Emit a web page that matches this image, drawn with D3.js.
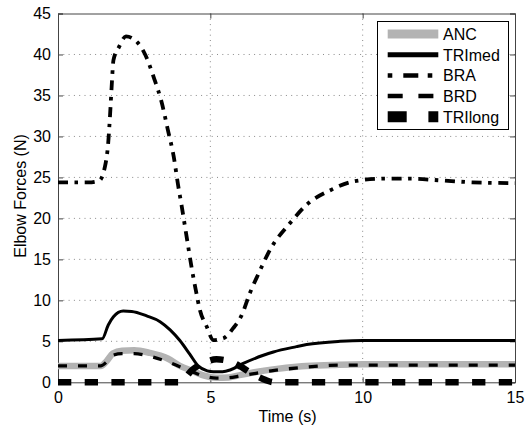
<!DOCTYPE html>
<html><head><meta charset="utf-8">
<script src="https://cdn.jsdelivr.net/npm/d3@7"></script>
<style>body{margin:0;background:#fff}svg{display:block}text{font-family:"Liberation Sans",Arial,sans-serif;fill:#000}</style>
</head><body><svg id="c" width="526" height="429"></svg>
<script>
// ---- data ----
const ancT   = [0,1.4,1.6,1.8,2.1,2.5,3.0,3.6,4.0,4.4,4.8,5.2,5.6,6.0,6.5,7.0,8.0,9.0,10,12,15];
const ancV   = [2.0,2.0,2.6,3.5,3.85,3.9,3.6,2.9,2.0,1.4,0.8,0.55,0.6,0.9,1.25,1.55,1.95,2.1,2.2,2.2,2.2];
const trimedT= [0,1.45,1.65,1.82,2.14,2.42,2.91,3.35,3.68,4.0,4.33,4.6,4.9,5.1,5.4,5.65,6.08,6.74,7.07,7.83,8.16,9.26,10,12,15];
const trimedV= [5.1,5.3,7.0,8.0,8.7,8.65,8.1,7.4,6.4,5.1,3.4,2.0,1.4,1.3,1.3,1.5,2.3,3.3,3.7,4.35,4.6,5.0,5.1,5.1,5.1];
const braT   = [0,1.0,1.35,1.54,1.65,1.71,1.76,1.82,2.0,2.23,2.6,2.86,3.18,3.4,3.6,3.8,3.94,4.06,4.22,4.39,4.52,4.66,4.88,5.1,5.43,5.75,6.03,6.3,6.55,7.01,7.61,8.2,8.92,9.69,10.67,11.55,12.5,13.6,15];
const braV   = [24.4,24.4,24.6,26.3,29.3,32.7,36.0,39.3,40.9,42.2,41.5,40.0,36.8,34.2,30.9,27.5,24.1,21.5,17.8,13.9,11.3,8.8,6.8,5.15,5.37,6.6,8.2,10.9,13.0,16.5,19.4,21.8,23.4,24.5,24.85,24.85,24.65,24.4,24.3];
const brdT   = [0,1.4,1.6,1.8,2.1,2.5,3.0,3.6,4.0,4.4,4.8,5.2,5.6,6.0,6.5,7.0,8.0,9.3,10,12,15];
const brdV   = [2.0,2.0,2.5,3.3,3.5,3.5,3.2,2.5,1.9,1.3,0.75,0.5,0.55,0.8,1.1,1.4,1.8,2.1,2.1,2.1,2.1];
const trilongT=[0,4.0,4.4,4.8,5.2,5.6,6.0,6.4,6.8,7.1,15];
const trilongV=[0,0,1.5,2.4,2.8,2.6,1.9,1.0,0.3,0,0];
const xTicks = [0,5,10,15];
const yTicks = [0,5,10,15,20,25,30,35,40,45];
const seriesNames = ["ANC","TRImed","BRA","BRD","TRIlong"];

const svg = d3.select("#c");
const L=58, R=515, T=13.5, B=382.3;
const x = d3.scaleLinear().domain([0,15]).range([L,R]);
const y = d3.scaleLinear().domain([0,45]).range([B,T]);

// grid
const g = svg.append("g");
g.selectAll(".gy").data(yTicks.slice(1,-1)).join("line")
  .attr("x1",L).attr("x2",R).attr("y1",d=>y(d)).attr("y2",d=>y(d))
  .attr("stroke","#8a8a8a").attr("stroke-width",1).attr("stroke-dasharray","1,4.3");
g.selectAll(".gx").data(xTicks.slice(1,-1)).join("line")
  .attr("y1",T).attr("y2",B).attr("x1",d=>x(d)).attr("x2",d=>x(d))
  .attr("stroke","#8a8a8a").attr("stroke-width",1).attr("stroke-dasharray","1,4.3");

// axes
const ax = svg.append("g").attr("transform",`translate(0,${B})`)
  .call(d3.axisBottom(x).tickValues(xTicks).tickSize(-5).tickPadding(9).tickFormat(d3.format("d")));
const ay = svg.append("g").attr("transform",`translate(${L},0)`)
  .call(d3.axisLeft(y).tickValues(yTicks).tickSize(-5).tickPadding(7).tickFormat(d3.format("d")));
const axT = svg.append("g").attr("transform",`translate(0,${T})`)
  .call(d3.axisTop(x).tickValues(xTicks).tickSize(-5).tickFormat(""));
const ayR = svg.append("g").attr("transform",`translate(${R},0)`)
  .call(d3.axisRight(y).tickValues(yTicks).tickSize(-5).tickFormat(""));
[ax,ay,axT,ayR].forEach(a=>{
  a.selectAll("path").attr("stroke","#444").attr("stroke-width",1);
  a.selectAll("line").attr("stroke","#444");
  a.selectAll("text").attr("font-size",16).attr("font-family","Liberation Sans, Arial, sans-serif").attr("fill","#000");
});

// lines
const line = d3.line().x(d=>x(d[0])).y(d=>y(d[1])).curve(d3.curveMonotoneX);
const zip=(a,b)=>a.map((t,i)=>[t,b[i]]);
const styles = [
  {name:"ANC", d:zip(ancT,ancV), stroke:"#b3b3b3", w:6.5, dash:null, lw:9, ldash:null},
  {name:"TRImed", d:zip(trimedT,trimedV), stroke:"#000", w:3, dash:null, lw:5, ldash:null},
  {name:"BRA", d:zip(braT,braV), stroke:"#000", w:3.8, dash:"10,6.5,3.5,6.7", lw:4.5, ldash:"4.6,11,15,9.4"},
  {name:"BRD", d:zip(brdT,brdV), stroke:"#000", w:3.3, dash:"9,11", lw:4.5, ldash:"15,15.7"},
  {name:"TRIlong", d:zip(trilongT,trilongV), stroke:"#000", w:6.5, dash:"13.3,13.4", lw:11, ldash:"19,21.7"}
];
svg.append("g").selectAll("path").data(styles).join("path")
  .attr("d",s=>line(s.d)).attr("fill","none").attr("stroke",s=>s.stroke)
  .attr("stroke-width",s=>s.w).attr("stroke-dasharray",s=>s.dash);

// labels
svg.append("text").attr("x",(L+R)/2+1).attr("y",421.5).attr("text-anchor","middle").attr("font-size",16).text("Time (s)");
svg.append("text").attr("transform","translate(26,196) rotate(-90)").attr("text-anchor","middle").attr("font-size",16).text("Elbow Forces (N)");

// legend
const lg = svg.append("g");
lg.append("rect").attr("x",377.5).attr("y",21.5).attr("width",131).attr("height",108)
  .attr("fill","#fff").attr("stroke","#000").attr("stroke-width",1);
const row = lg.selectAll("g.r").data(styles).join("g").attr("transform",(s,i)=>`translate(0,${34+i*20.7})`);
row.append("line").attr("x1",387.7).attr("x2",438.3).attr("y1",0).attr("y2",0)
  .attr("stroke",s=>s.stroke).attr("stroke-width",s=>s.lw).attr("stroke-dasharray",s=>s.ldash);
row.append("text").attr("x",443).attr("y",5.8).attr("font-size",16).text(s=>s.name);
</script></body></html>
